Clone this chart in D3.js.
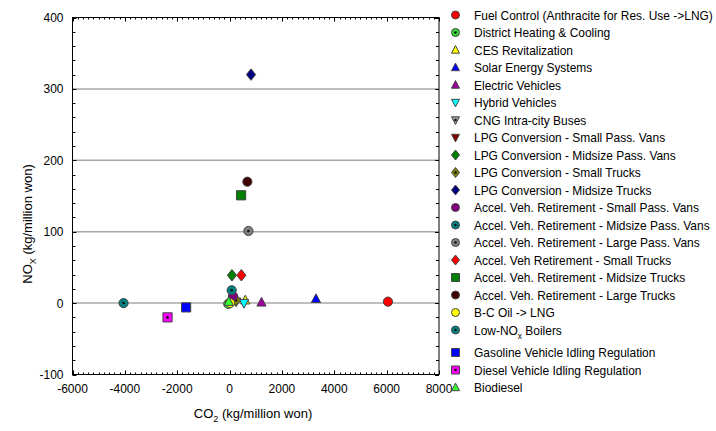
<!DOCTYPE html>
<meta charset="utf-8">
<script src="https://cdnjs.cloudflare.com/ajax/libs/d3/7.8.5/d3.min.js"></script>
<style>
  body { margin: 0; background: #fff; }
  text { font-family: "Liberation Sans", Arial, sans-serif; fill: #000; }
</style>
<div id="chart"></div>
<script>

  // measures, legend order
  const measures = [
    'Fuel Control (Anthracite for Res. Use ->LNG)',
    'District Heating & Cooling',
    'CES Revitalization',
    'Solar Energy Systems',
    'Electric Vehicles',
    'Hybrid Vehicles',
    'CNG Intra-city Buses',
    'LPG Conversion - Small Pass. Vans',
    'LPG Conversion - Midsize Pass. Vans',
    'LPG Conversion - Small Trucks',
    'LPG Conversion - Midsize Trucks',
    'Accel. Veh. Retirement - Small Pass. Vans',
    'Accel. Veh. Retirement - Midsize Pass. Vans',
    'Accel. Veh. Retirement - Large Pass. Vans',
    'Accel. Veh Retirement - Small Trucks',
    'Accel. Veh. Retirement - Midsize Trucks',
    'Accel. Veh. Retirement - Large Trucks',
    'B-C Oil -> LNG',
    'Low-NOx Boilers',
    'Gasoline Vehicle Idling Regulation',
    'Diesel Vehicle Idling Regulation',
    'Biodiesel'
  ]
  const co2 = [6050, -50, 600, 3300, 1220, 550, 250, 150, 90, 250, 820, 130, 80, 720, 450, 440, 680, 20, -4050, -1660, -2370, -30]
  const nox = [2, -1, 4, 6, 1, 0, 2, 5, 39, 4, 320, 10, 18, 101, 39, 151, 170, 0, 0, -6, -20, 2]
  const shapes = ['circle', 'circle', 'tri', 'tri', 'tri', 'down', 'down', 'down', 'diamond', 'diamond', 'diamond',
    'circle', 'circle', 'circle', 'diamond', 'square', 'circle', 'circle', 'circle', 'square', 'square', 'tri']
  const colors = ['#ff0000', '#33dd33', '#ffff00', '#0000ff', '#a000a0', '#00ffff', '#a0a0a0', '#800000', '#008000', '#808000', '#000080',
    '#800080', '#008080', '#808080', '#ff0000', '#008000', '#400000', '#ffff00', '#008080', '#0000ff', '#ff00ff', '#33ff33']
  const dotted = [false, true, false, false, false, false, true, false, false, true, false,
    false, true, true, false, false, false, false, true, false, true, false]

  const xTicks = [-6000, -4000, -2000, 0, 2000, 4000, 6000, 8000]
  const yTicks = [-100, 0, 100, 200, 300, 400]
  const gridY = [0, 100, 200, 300]

  const margin = { top: 17.5, left: 72.5 }
  const width = 366.5
  const height = 357

  const svg = d3.select('#chart').append('svg')
    .attr('width', 716).attr('height', 431)

  const x = d3.scaleLinear().domain([-6000, 8000]).range([margin.left, margin.left + width])
  const y = d3.scaleLinear().domain([-100, 400]).range([margin.top + height, margin.top])

  // grid lines
  svg.append('g').selectAll('line').data(gridY).join('line')
    .attr('x1', x(-6000)).attr('x2', x(8000))
    .attr('y1', d => y(d)).attr('y2', d => y(d))
    .attr('stroke', '#a8a8a8').attr('stroke-width', 1.5)

  // minor ticks, pointing in, all four sides
  const xMinor = d3.range(-6000, 8001, 200)
  const yMinor = d3.range(-100, 401, 20)
  const ticks = svg.append('g').attr('stroke', '#000').attr('stroke-width', 1)
  ticks.selectAll('.xb').data(xMinor).join('line')
    .attr('x1', d => Math.round(x(d)) + 0.5).attr('x2', d => Math.round(x(d)) + 0.5)
    .attr('y1', y(-100)).attr('y2', d => y(-100) - (d % 2000 === 0 ? 4 : 2))
  ticks.selectAll('.xt').data(xMinor).join('line')
    .attr('x1', d => Math.round(x(d)) + 0.5).attr('x2', d => Math.round(x(d)) + 0.5)
    .attr('y1', y(400)).attr('y2', d => y(400) + (d % 2000 === 0 ? 4 : 2))
  ticks.selectAll('.yl').data(yMinor).join('line')
    .attr('y1', d => Math.round(y(d)) + 0.5).attr('y2', d => Math.round(y(d)) + 0.5)
    .attr('x1', x(-6000)).attr('x2', d => x(-6000) + (d % 100 === 0 ? 4 : 3))
  ticks.selectAll('.yr').data(yMinor).join('line')
    .attr('y1', d => Math.round(y(d)) + 0.5).attr('y2', d => Math.round(y(d)) + 0.5)
    .attr('x1', x(8000)).attr('x2', d => x(8000) - (d % 100 === 0 ? 4 : 3))

  // frame
  svg.append('rect')
    .attr('x', x(-6000)).attr('y', y(400))
    .attr('width', width).attr('height', height)
    .attr('fill', 'none').attr('stroke', '#000').attr('stroke-width', 1)

  // tick labels
  svg.append('g').selectAll('text').data(xTicks).join('text')
    .attr('x', d => x(d)).attr('y', y(-100) + 18)
    .attr('text-anchor', 'middle').attr('font-size', 12)
    .text(d => d)
  svg.append('g').selectAll('text').data(yTicks).join('text')
    .attr('x', x(-6000) - 9).attr('y', d => y(d) + 4.5)
    .attr('text-anchor', 'end').attr('font-size', 12)
    .text(d => d)

  // axis titles
  const xt = svg.append('text').attr('x', 253).attr('y', 418)
    .attr('text-anchor', 'middle').attr('font-size', 13)
  xt.append('tspan').text('CO')
  xt.append('tspan').attr('font-size', 9).attr('dy', 4).text('2')
  xt.append('tspan').attr('dy', -4).text(' (kg/million won)')

  const yt = svg.append('text').attr('transform', 'translate(32,224) rotate(-90)')
    .attr('text-anchor', 'middle').attr('font-size', 13)
  yt.append('tspan').text('NO')
  yt.append('tspan').attr('font-size', 9).attr('dy', 4).text('X')
  yt.append('tspan').attr('dy', -4).text(' (kg/million won)')

  // symbol drawing
  function shapePath(s, r) {
    if (s === 'circle') return d3.symbol(d3.symbolCircle, Math.PI * r * r)()
    if (s === 'square') return `M${-r},${-r}H${r}V${r}H${-r}Z`
    if (s === 'diamond') return `M0,${-r * 1.25}L${r},0L0,${r * 1.25}L${-r},0Z`
    if (s === 'tri') return `M0,${-r * 1.1}L${r},${r * 0.8}L${-r},${r * 0.8}Z`
    return `M0,${r * 1.1}L${r},${-r * 0.8}L${-r},${-r * 0.8}Z`
  }
  function drawMarker(g, i, r) {
    g.append('path').attr('d', shapePath(shapes[i], r))
      .attr('fill', colors[i]).attr('stroke', '#444').attr('stroke-width', 1)
    if (dotted[i]) g.append('circle').attr('r', 1.3).attr('fill', '#111')
  }

  // points
  const pts = svg.append('g')
  measures.forEach((m, i) => {
    const g = pts.append('g').attr('transform', `translate(${x(co2[i])},${y(nox[i])})`)
    drawMarker(g, i, 4.6)
  })

  // legend
  const legend = svg.append('g')
  measures.forEach((m, i) => {
    const ly = 15 + i * 17.5 + (i > 18 ? 5 : 0)
    const g = legend.append('g').attr('transform', `translate(455.5,${ly})`)
    drawMarker(g, i, 4)
    const t = g.append('text').attr('transform', 'translate(18.5,4.5) scale(0.92,1)')
      .attr('font-size', 13)
    if (m === 'Low-NOx Boilers') {
      t.append('tspan').text('Low-NO')
      t.append('tspan').attr('font-size', 9).attr('dy', 4).text('x')
      t.append('tspan').attr('dy', -4).text(' Boilers')
    } else {
      t.text(m)
    }
  })

</script>
